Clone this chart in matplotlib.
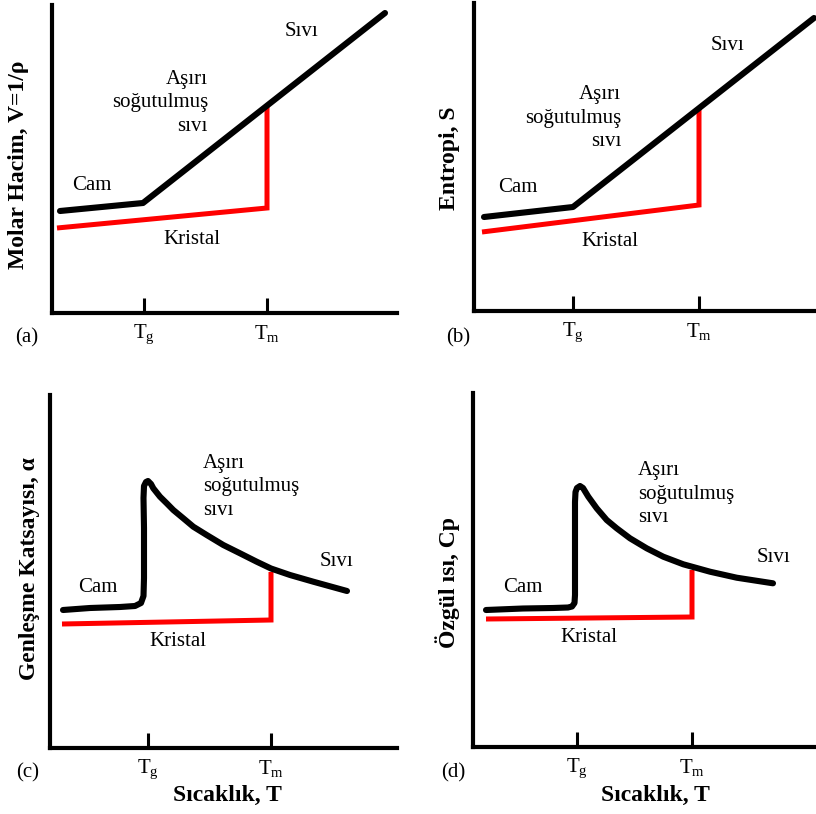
import matplotlib
matplotlib.use("Agg")
import matplotlib.pyplot as plt

plt.rcParams["font.family"] = ["Liberation Serif", "DejaVu Serif"]
plt.rcParams["mathtext.fontset"] = "custom"
plt.rcParams["mathtext.rm"] = "Liberation Serif"
plt.rcParams["mathtext.it"] = "Liberation Serif:italic"
plt.rcParams["mathtext.bf"] = "Liberation Serif:bold"

FIG_W, FIG_H = 816, 814

# ---- (a) molar volume -------------------------------------------------
a_Tg, a_Tm = 92, 215
a_amorph_T = [8, 91, 333]
a_amorph_V = [102, 110, 300]
a_cryst_T = [5, 215, 215]
a_cryst_V = [85, 105, 207]

# ---- (b) entropy -----------------------------------------------------
b_Tg, b_Tm = 99, 225
b_amorph_T = [10, 99, 340]
b_amorph_S = [94, 104, 293]
b_cryst_T = [8, 225, 225]
b_cryst_S = [79, 106, 202]

# ---- (c) expansion coefficient ---------------------------------------
c_Tg, c_Tm = 98, 221
c_amorph_T = [13, 40, 70, 85, 91, 93.5, 94, 94, 93.5, 94, 96, 98, 101,
              103.3, 110, 116.7, 123.3, 133.3, 143.3, 156.7, 173.3, 190,
              206.7, 221, 240, 263.3, 297]
c_amorph_a = [138, 140, 141, 142, 145, 152, 170, 220, 250, 262, 266, 267,
              264, 259.7, 251.3, 244.7, 238, 229.7, 221.3, 213, 203, 194.7,
              186.3, 179.5, 173, 166.3, 157]
c_cryst_T = [12, 221, 221]
c_cryst_a = [124, 128, 176]

# ---- (d) specific heat -----------------------------------------------
d_Tg, d_Tm = 104, 219
d_amorph_T = [13, 50, 80, 95, 99, 101.5, 102, 102, 102, 102.5, 104, 107,
              110, 115.3, 123.7, 133.7, 143.7, 157, 173.7, 190.3, 210.3,
              219, 237, 263.7, 300]
d_amorph_cp = [137, 138.5, 139, 139.5, 140.5, 144, 152, 200, 245, 255, 259,
               261, 259, 250.3, 238.7, 227, 218.7, 208.7, 198.7, 190.3,
               182.7, 180.3, 175.3, 169.3, 163.7]
d_cryst_T = [13, 219, 219]
d_cryst_cp = [128, 130, 177]

tick_labels = [r"$\mathrm{T_g}$", r"$\mathrm{T_m}$"]

fig = plt.figure(figsize=(FIG_W / 100, FIG_H / 100), dpi=100)


def fx(x):
    return x / FIG_W


def fy(y):
    return 1 - y / FIG_H


def make_axes(left, top, right, bottom):
    ax = fig.add_axes([fx(left), fy(bottom), fx(right - left), (bottom - top) / FIG_H])
    ax.set_xlim(0, right - left)
    ax.set_ylim(0, bottom - top)
    for s in ("top", "right"):
        ax.spines[s].set_visible(False)
    for s in ("left", "bottom"):
        ax.spines[s].set_linewidth(3)
        ax.spines[s].set_capstyle("projecting")
    ax.set_yticks([])
    ax.tick_params(axis="x", direction="in", length=11, width=2.2,
                   pad=7, labelsize=15)
    return ax


def draw_panel(ax, Tg, Tm, amorph_x, amorph_y, cryst_x, cryst_y):
    ax.set_xticks([Tg, Tm])
    ax.set_xticklabels(tick_labels)
    ax.plot(cryst_x, cryst_y, color="#ff0000", lw=3.6,
            solid_joinstyle="miter", solid_capstyle="butt", clip_on=False)
    ax.plot(amorph_x, amorph_y, color="black", lw=4.4,
            solid_joinstyle="round", solid_capstyle="round", clip_on=False)


txt = dict(fontsize=15, color="black")
stack = "Aşırı\nsoğutulmuş\nsıvı"

# (a)
ax_a = make_axes(52, 5, 397, 313)
draw_panel(ax_a, a_Tg, a_Tm, a_amorph_T, a_amorph_V, a_cryst_T, a_cryst_V)
ax_a.text(40, 128, "Cam", ha="center", va="center", **txt)
ax_a.text(140, 74, "Kristal", ha="center", va="center", **txt)
ax_a.text(156, 210, stack, ha="right", va="center", linespacing=1.3, **txt)
ax_a.text(250, 281, "Sıvı", ha="center", va="center", **txt)

# (b)
ax_b = make_axes(474, 3, 816, 311)
draw_panel(ax_b, b_Tg, b_Tm, b_amorph_T, b_amorph_S, b_cryst_T, b_cryst_S)
ax_b.text(44, 123, "Cam", ha="center", va="center", **txt)
ax_b.text(136, 69, "Kristal", ha="center", va="center", **txt)
ax_b.text(147, 193, stack, ha="right", va="center", linespacing=1.3, **txt)
ax_b.text(253, 266, "Sıvı", ha="center", va="center", **txt)

# (c)
ax_c = make_axes(50, 395, 397, 748)
draw_panel(ax_c, c_Tg, c_Tm, c_amorph_T, c_amorph_a, c_cryst_T, c_cryst_a)
ax_c.text(48, 160, "Cam", ha="center", va="center", **txt)
ax_c.text(128, 106, "Kristal", ha="center", va="center", **txt)
ax_c.text(153, 261, stack, ha="left", va="center", linespacing=1.3, **txt)
ax_c.text(287, 186, "Sıvı", ha="center", va="center", **txt)

# (d)
ax_d = make_axes(473, 393, 816, 747)
draw_panel(ax_d, d_Tg, d_Tm, d_amorph_T, d_amorph_cp, d_cryst_T, d_cryst_cp)
ax_d.text(50, 159, "Cam", ha="center", va="center", **txt)
ax_d.text(116, 109, "Kristal", ha="center", va="center", **txt)
ax_d.text(165, 253, stack, ha="left", va="center", linespacing=1.3, **txt)
ax_d.text(300, 189, "Sıvı", ha="center", va="center", **txt)

# axis titles and panel letters
ylab = dict(fontsize=17, fontweight="bold", rotation=90, ha="center", va="center")
fig.text(fx(19), fy(165), "Molar Hacim, V=1/ρ", **ylab)
fig.text(fx(449), fy(158), "Entropi, S", **ylab)
fig.text(fx(30), fy(569), "Genleşme Katsayısı, α", **ylab)
fig.text(fx(448), fy(582), "Özgül ısı, Cp", **ylab)

xlab = dict(fontsize=17, fontweight="bold", ha="center", va="center")
fig.text(fx(227), fy(795), "Sıcaklık, T", **xlab)
fig.text(fx(655), fy(795), "Sıcaklık, T", **xlab)

for lbl, (x, y) in zip(["(a)", "(b)", "(c)", "(d)"],
                       [(27, 338), (458, 338), (28, 773), (453, 773)]):
    fig.text(fx(x), fy(y), lbl, fontsize=15, ha="center", va="center")

fig.savefig("out.png", dpi=100, facecolor="white")
